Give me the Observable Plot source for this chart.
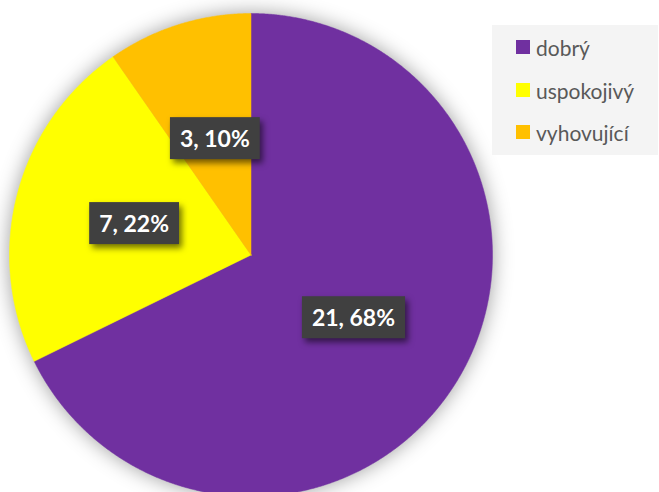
<!DOCTYPE html>
<html>
<head>
<meta charset="utf-8">
<script src="https://cdn.jsdelivr.net/npm/d3@7"></script>
<script src="https://cdn.jsdelivr.net/npm/@observablehq/plot@0.6"></script>
<style>
  html, body { margin: 0; padding: 0; background: #ffffff; }
  #wrap { position: relative; width: 659px; height: 492px; overflow: hidden; }
  #legend { position: absolute; left: 492px; top: 25px; width: 166px; height: 130px; background: #f4f4f4;
            font-family: Lato, "Open Sans", sans-serif; font-size: 21px; color: #595959; }
  .row { position: absolute; left: 24px; height: 22px; display: flex; align-items: center; }
  .sw { width: 14px; height: 14px; margin-right: 6px; }
</style>
</head>
<body>
<div id="wrap"></div>
<script>
const categories = ["dobrý", "uspokojivý", "vyhovující"];
const counts = [21, 7, 3];
const percents = [68, 22, 10];
const colors = ["#7030A0", "#FFFF00", "#FFC000"];

const pie = d3.pie().sort(null).value(d => d.count);
const rows = categories.map((c, i) => ({cat: c, count: counts[i], pct: percents[i]}));
const arcs = pie(rows);

// polygon vertices for each slice (unit circle), derived from pie angles
const pts = [];
arcs.forEach(a => {
  const cat = a.data.cat;
  pts.push({cat, x: 0, y: 0});
  const n = Math.max(2, Math.ceil((a.endAngle - a.startAngle) / 0.005));
  for (let k = 0; k <= n; k++) {
    const t = a.startAngle + (a.endAngle - a.startAngle) * k / n;
    pts.push({cat, x: Math.sin(t), y: Math.cos(t)});
  }
  pts.push({cat, x: 0, y: 0});
});

const labels = arcs.map(a => {
  const m = (a.startAngle + a.endAngle) / 2;
  return {x: 0.5 * Math.sin(m), y: 0.5 * Math.cos(m), text: `${a.data.count}, ${a.data.pct}%`};
});

const chart = Plot.plot({
  width: 659,
  height: 492,
  margin: 0,
  x: {domain: [-1, 1], range: [9, 492], axis: null},
  y: {domain: [-1, 1], range: [496, 13], axis: null},
  color: {domain: categories, range: colors},
  style: {background: "transparent", overflow: "visible"},
  marks: [
    Plot.line(pts, {x: "x", y: "y", z: "cat", fill: "cat", stroke: "cat", strokeWidth: 0.5, curve: "linear-closed"}),
    Plot.text(labels, {x: "x", y: "y", text: "text", fill: "white", fontWeight: "bold", fontSize: 23,
      fontFamily: "Lato, 'Open Sans', sans-serif"})
  ]
});

const wrap = document.getElementById("wrap");
wrap.appendChild(chart);

// soft glow around pie
const lineG = chart.querySelector('g[aria-label="line"]');
if (lineG) lineG.style.filter = "drop-shadow(0px 0px 10px rgba(0,0,0,0.38))";

// dark label boxes behind texts
const textG = chart.querySelector('g[aria-label="text"]');
if (textG) {
  textG.querySelectorAll("text").forEach(t => {
    const b = t.getBBox();
    const w = b.width + 20, h = 42;
    const cx = b.x + b.width / 2, cy = b.y + b.height / 2;
    const r = document.createElementNS("http://www.w3.org/2000/svg", "rect");
    r.setAttribute("x", cx - w / 2);
    r.setAttribute("y", cy - h / 2);
    r.setAttribute("width", w);
    r.setAttribute("height", h);
    r.setAttribute("fill", "#404040");
    const tr = t.getAttribute("transform");
    if (tr) r.setAttribute("transform", tr);
    r.style.filter = "drop-shadow(3px 4px 3px rgba(0,0,0,0.55))";
    t.parentNode.insertBefore(r, t);
  });
}

// legend
const leg = document.createElement("div");
leg.id = "legend";
const rowTops = [11, 54, 96];
categories.forEach((c, i) => {
  const row = document.createElement("div");
  row.className = "row";
  row.style.top = rowTops[i] + "px";
  const sw = document.createElement("div");
  sw.className = "sw";
  sw.style.background = colors[i];
  const lab = document.createElement("span");
  lab.textContent = c;
  row.appendChild(sw);
  row.appendChild(lab);
  leg.appendChild(row);
});
wrap.appendChild(leg);
</script>
</body>
</html>
